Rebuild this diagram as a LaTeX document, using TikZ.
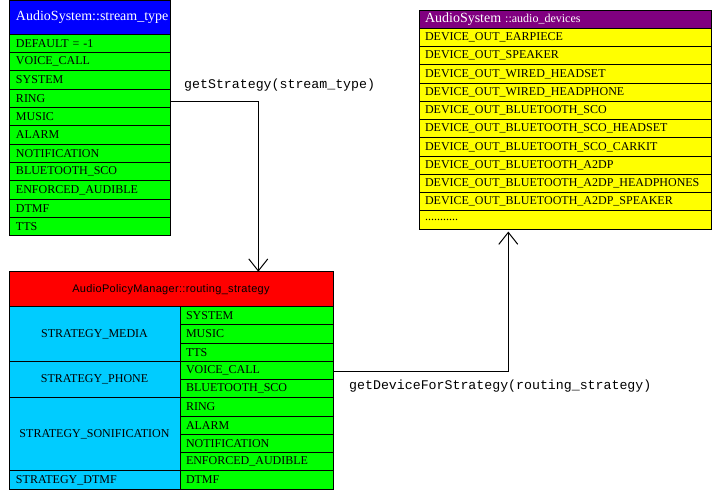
\documentclass[tikz,border=0pt]{standalone}
\usepackage{fontspec}
\setmainfont{Liberation Serif}
\newfontfamily\codefont{Liberation Mono}
\newfontfamily\uifont[LetterSpace=3]{Liberation Sans}
\usetikzlibrary{arrows.meta}

\definecolor{typeblue}{HTML}{0000FF}
\definecolor{valgreen}{HTML}{00FF00}
\definecolor{stratred}{HTML}{FF0000}
\definecolor{stratcyan}{HTML}{00CCFF}
\definecolor{devpurple}{HTML}{800080}
\definecolor{devyellow}{HTML}{FFFF00}

% trailing row of the device list
\newcommand\devdots{...........}

\begin{document}
\begin{tikzpicture}[x=1pt,y=-1pt,
  box/.style={draw=black, line width=1pt, outer sep=0pt, inner ysep=0pt,
    inner xsep=7pt, anchor=north west, align=left,
    font=\fontsize{12}{14}\selectfont},
  typecell/.style={box, fill=valgreen, minimum height=18.36pt, text width=147pt},
  devcell/.style={box, fill=devyellow, inner xsep=6pt, minimum height=18.25pt, text width=280.5pt},
  valcell/.style={box, fill=valgreen, inner xsep=6pt, minimum height=18.23pt, text width=141pt},
  stratcell/.style={box, fill=stratcyan, minimum width=171pt},
  call/.style={font=\codefont\fontsize{13.25}{15}\selectfont, inner sep=0pt, anchor=base west},
  flow/.style={draw=black, line width=1pt, -{Straight Barb[length=12pt, width=19pt]}}]

\useasboundingbox (0,0) rectangle (718,496);

% AudioSystem::stream_type
\node[box, fill=typeblue, text=white, minimum height=33.5pt, text width=147pt,
  font=\fontsize{14}{16}\selectfont] (st) at (9,0.5) {AudioSystem::stream\_type};
\foreach \t [count=\i] in {DEFAULT = -1, VOICE\_CALL, SYSTEM, RING, MUSIC, ALARM,
    NOTIFICATION, BLUETOOTH\_SCO, ENFORCED\_AUDIBLE, DTMF, TTS}
  \node[typecell] (st\i) at (9,{34+(\i-1)*18.36}) {\t};

% AudioPolicyManager::routing_strategy
\node[box, fill=stratred, minimum width=324pt, minimum height=35pt, align=center,
  font=\uifont\fontsize{11}{13}\selectfont] (rs) at (9,271.7)
  {AudioPolicyManager::routing\_strategy};
\foreach \t [count=\i] in {SYSTEM, MUSIC, TTS, VOICE\_CALL, BLUETOOTH\_SCO, RING,
    ALARM, NOTIFICATION, ENFORCED\_AUDIBLE, DTMF}
  \node[valcell] (rv\i) at (180,{306.7+(\i-1)*18.23}) {\t};
\node[stratcell, align=center, minimum height=54.69pt] (media) at (9,306.7) {STRATEGY\_MEDIA};
\node[stratcell, align=center, minimum height=36.46pt] (phone) at (9,361.39) {STRATEGY\_PHONE};
\node[stratcell, align=center, minimum height=72.92pt] (sonif) at (9,397.85) {STRATEGY\_SONIFICATION};
\node[stratcell, minimum height=18.23pt, text width=157pt] (dtmf) at (9,470.77) {STRATEGY\_DTMF};

% AudioSystem::audio_devices
\node[box, fill=devpurple, text=white, inner xsep=6pt, minimum height=18.3pt,
  text width=280.5pt] (ad) at (419,10)
  {{\fontsize{14}{16}\selectfont AudioSystem} ::audio\_devices};
\foreach \t [count=\i] in {DEVICE\_OUT\_EARPIECE, DEVICE\_OUT\_SPEAKER,
    DEVICE\_OUT\_WIRED\_HEADSET, DEVICE\_OUT\_WIRED\_HEADPHONE,
    DEVICE\_OUT\_BLUETOOTH\_SCO, DEVICE\_OUT\_BLUETOOTH\_SCO\_HEADSET,
    DEVICE\_OUT\_BLUETOOTH\_SCO\_CARKIT, DEVICE\_OUT\_BLUETOOTH\_A2DP,
    DEVICE\_OUT\_BLUETOOTH\_A2DP\_HEADPHONES, DEVICE\_OUT\_BLUETOOTH\_A2DP\_SPEAKER,
    \devdots}
  \node[devcell] (ad\i) at (419,{28.3+(\i-1)*18.25}) {\t};

% stream_type -> routing_strategy
\coordinate (k1) at (258.3,101.3);
\draw[flow] (st4.east |- k1) -- (k1) -- (k1 |- rs.north);
\node[call] (c1) at (184,88) {getStrategy(stream\_type)};

% routing_strategy -> audio_devices
\coordinate (k2) at (508.3,371.3);
\draw[flow, shorten >=2.5pt] (rv4.east |- k2) -- (k2) -- (k2 |- ad11.south);
\node[call] (c2) at (349,389.3) {getDeviceForStrategy(routing\_strategy)};

\end{tikzpicture}
\end{document}
